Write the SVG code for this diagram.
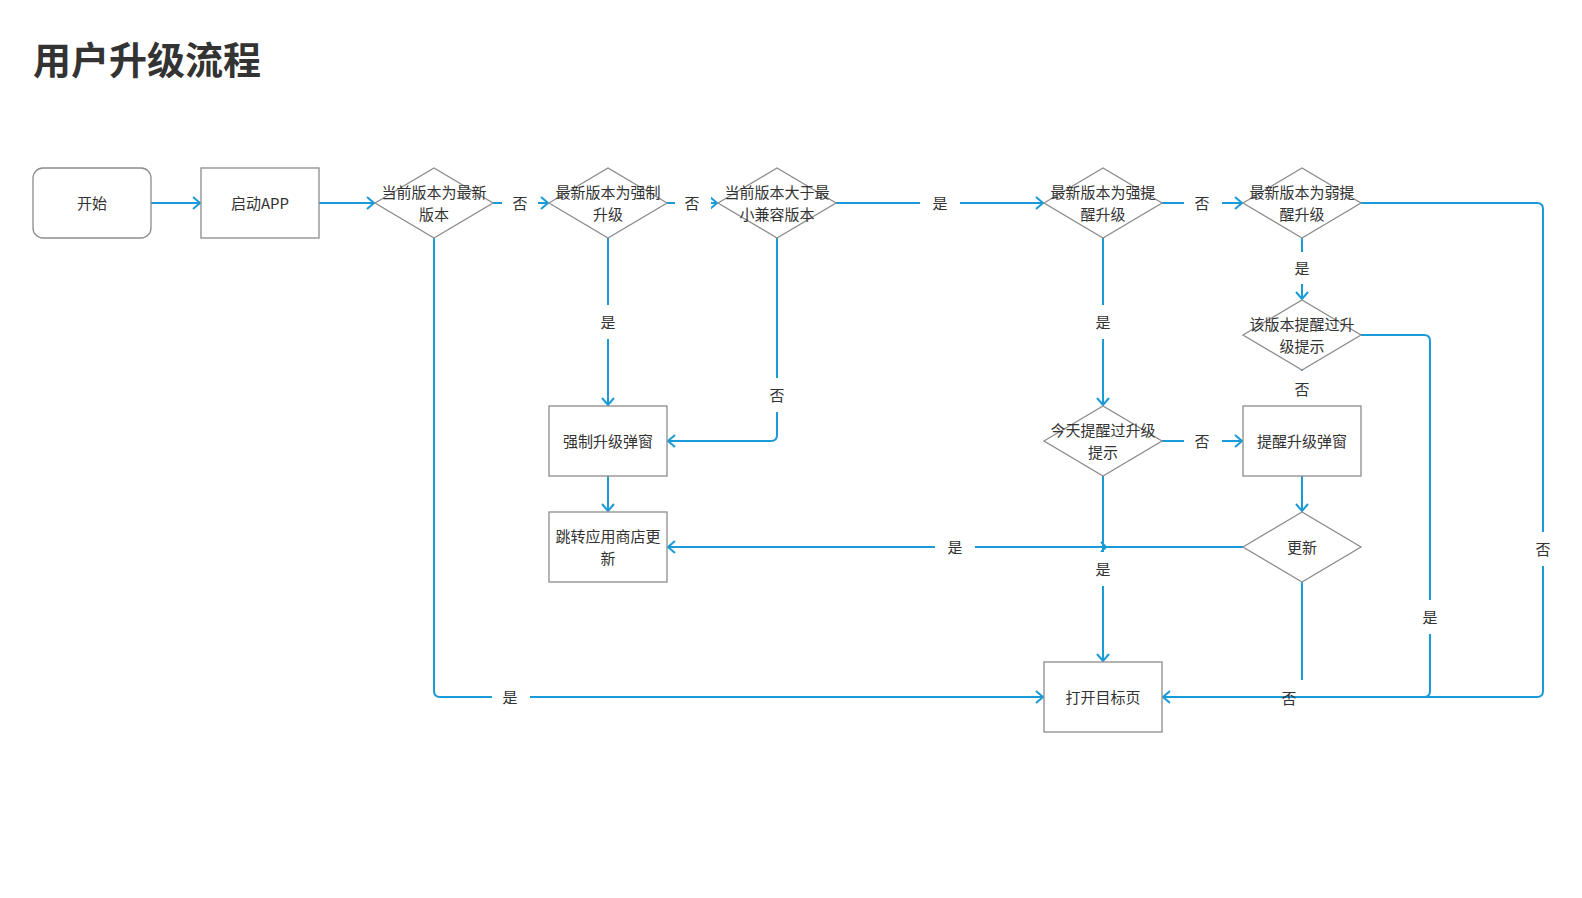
<svg xmlns="http://www.w3.org/2000/svg" width="1582" height="898" viewBox="0 0 1582 898">
<style>
.node{fill:#fff;stroke:#8c8c8c;stroke-width:1.3}
.t{font-family:"Noto Sans CJK SC","Liberation Sans",sans-serif;font-size:15px;fill:#333;text-anchor:middle}
.title{font-family:"Noto Sans CJK SC","Liberation Sans",sans-serif;font-size:38px;font-weight:bold;fill:#333}
.c{fill:none;stroke:#1a9bd7;stroke-width:2;stroke-linejoin:round}
.lb{fill:#fff}
</style>
<defs>
<marker id="ah" markerUnits="userSpaceOnUse" viewBox="0 0 10 14" markerWidth="10" markerHeight="14" refX="9" refY="7" orient="auto">
<path d="M2,1 L9,7 L2,13" fill="none" stroke="#1a9bd7" stroke-width="2"/>
</marker>
</defs>
<rect width="1582" height="898" fill="#fff"/>
<text class="title" x="33" y="74">用户升级流程</text>

<g id="connectors">
<path class="c" d="M151,203 H200" marker-end="url(#ah)"/>
<path class="c" d="M319,203 H374" marker-end="url(#ah)"/>
<path class="c" d="M493,203 H548" marker-end="url(#ah)"/>
<path class="c" d="M667,203 H717" marker-end="url(#ah)"/>
<path class="c" d="M836,203 H1043" marker-end="url(#ah)"/>
<path class="c" d="M1162,203 H1242" marker-end="url(#ah)"/>
<path class="c" d="M1361,203 H1537 Q1543,203 1543,209 V691 Q1543,697 1537,697 H1163" marker-end="url(#ah)"/>
<path class="c" d="M1302,238 V299" marker-end="url(#ah)"/>
<path class="c" d="M1361,335 H1424 Q1430,335 1430,341 V691 Q1430,697 1424,697 H1163"/>
<path class="c" d="M1302,370 V405"/>
<path class="c" d="M608,238 V405" marker-end="url(#ah)"/>
<path class="c" d="M777,238 V435 Q777,441 771,441 H668" marker-end="url(#ah)"/>
<path class="c" d="M608,476 V511" marker-end="url(#ah)"/>
<path class="c" d="M1103,238 V405" marker-end="url(#ah)"/>
<path class="c" d="M1162,441 H1242" marker-end="url(#ah)"/>
<path class="c" d="M1103,476 V661" marker-end="url(#ah)"/>
<path class="c" d="M1101,542 L1106,547 L1101,552"/>
<path class="c" d="M1302,476 V511" marker-end="url(#ah)"/>
<path class="c" d="M1243,547 H668" marker-end="url(#ah)"/>
<path class="c" d="M1302,582 V680"/>
<path class="c" d="M434,238 V691 Q434,697 440,697 H1043" marker-end="url(#ah)"/>

<g id="labels">
<rect class="lb" x="502" y="190" width="36" height="26"/><text class="t" x="520" y="209">否</text>
<rect class="lb" x="675" y="190" width="36" height="26"/><text class="t" x="692" y="209">否</text>
<rect class="lb" x="920" y="190" width="40" height="26"/><text class="t" x="940" y="209">是</text>
<rect class="lb" x="1184" y="190" width="38" height="26"/><text class="t" x="1202" y="209">否</text>
<rect class="lb" x="1288" y="252" width="28" height="32"/><text class="t" x="1302" y="274">是</text>
<rect class="lb" x="1288" y="371" width="28" height="34"/><text class="t" x="1302" y="395">否</text>
<rect class="lb" x="594" y="305" width="28" height="34"/><text class="t" x="608" y="328">是</text>
<rect class="lb" x="763" y="378" width="28" height="34"/><text class="t" x="777" y="401">否</text>
<rect class="lb" x="1089" y="305" width="28" height="34"/><text class="t" x="1103" y="328">是</text>
<rect class="lb" x="1184" y="428" width="38" height="26"/><text class="t" x="1202" y="447">否</text>
<rect class="lb" x="1089" y="552" width="28" height="34"/><text class="t" x="1103" y="575">是</text>
<rect class="lb" x="935" y="534" width="40" height="26"/><text class="t" x="955" y="553">是</text>
<rect class="lb" x="1529" y="532" width="28" height="34"/><text class="t" x="1543" y="555">否</text>
<rect class="lb" x="1416" y="600" width="28" height="34"/><text class="t" x="1430" y="623">是</text>
<rect class="lb" x="492" y="684" width="38" height="26"/><text class="t" x="510" y="703">是</text>
<text class="t" x="1289" y="704">否</text>
</g>
</g>

<g id="start"><rect class="node" x="33" y="168" width="118" height="70" rx="10"/><text class="t" x="92" y="209">开始</text></g>
<g id="launch"><rect class="node" x="201" y="168" width="118" height="70"/><text class="t" x="260" y="209">启动APP</text></g>
<g id="d1"><path class="node" d="M375,203 L434,168 L493,203 L434,238 Z"/><text class="t" x="434" y="198">当前版本为最新</text><text class="t" x="434" y="220">版本</text></g>
<g id="d2"><path class="node" d="M549,203 L608,168 L667,203 L608,238 Z"/><text class="t" x="608" y="198">最新版本为强制</text><text class="t" x="608" y="220">升级</text></g>
<g id="d3"><path class="node" d="M718,203 L777,168 L836,203 L777,238 Z"/><text class="t" x="777" y="198">当前版本大于最</text><text class="t" x="777" y="220">小兼容版本</text></g>
<g id="d4"><path class="node" d="M1044,203 L1103,168 L1162,203 L1103,238 Z"/><text class="t" x="1103" y="198">最新版本为强提</text><text class="t" x="1103" y="220">醒升级</text></g>
<g id="d5"><path class="node" d="M1243,203 L1302,168 L1361,203 L1302,238 Z"/><text class="t" x="1302" y="198">最新版本为弱提</text><text class="t" x="1302" y="220">醒升级</text></g>
<g id="d6"><path class="node" d="M1243,335 L1302,300 L1361,335 L1302,370 Z"/><text class="t" x="1302" y="330">该版本提醒过升</text><text class="t" x="1302" y="352">级提示</text></g>
<g id="forcepop"><rect class="node" x="549" y="406" width="118" height="70"/><text class="t" x="608" y="447">强制升级弹窗</text></g>
<g id="store"><rect class="node" x="549" y="512" width="118" height="70"/><text class="t" x="608" y="542">跳转应用商店更</text><text class="t" x="608" y="564">新</text></g>
<g id="d7"><path class="node" d="M1044,441 L1103,406 L1162,441 L1103,476 Z"/><text class="t" x="1103" y="436">今天提醒过升级</text><text class="t" x="1103" y="458">提示</text></g>
<g id="remindpop"><rect class="node" x="1243" y="406" width="118" height="70"/><text class="t" x="1302" y="447">提醒升级弹窗</text></g>
<g id="d8"><path class="node" d="M1243,547 L1302,512 L1361,547 L1302,582 Z"/><text class="t" x="1302" y="553">更新</text></g>
<g id="target"><rect class="node" x="1044" y="662" width="118" height="70"/><text class="t" x="1103" y="703">打开目标页</text></g>
</svg>
